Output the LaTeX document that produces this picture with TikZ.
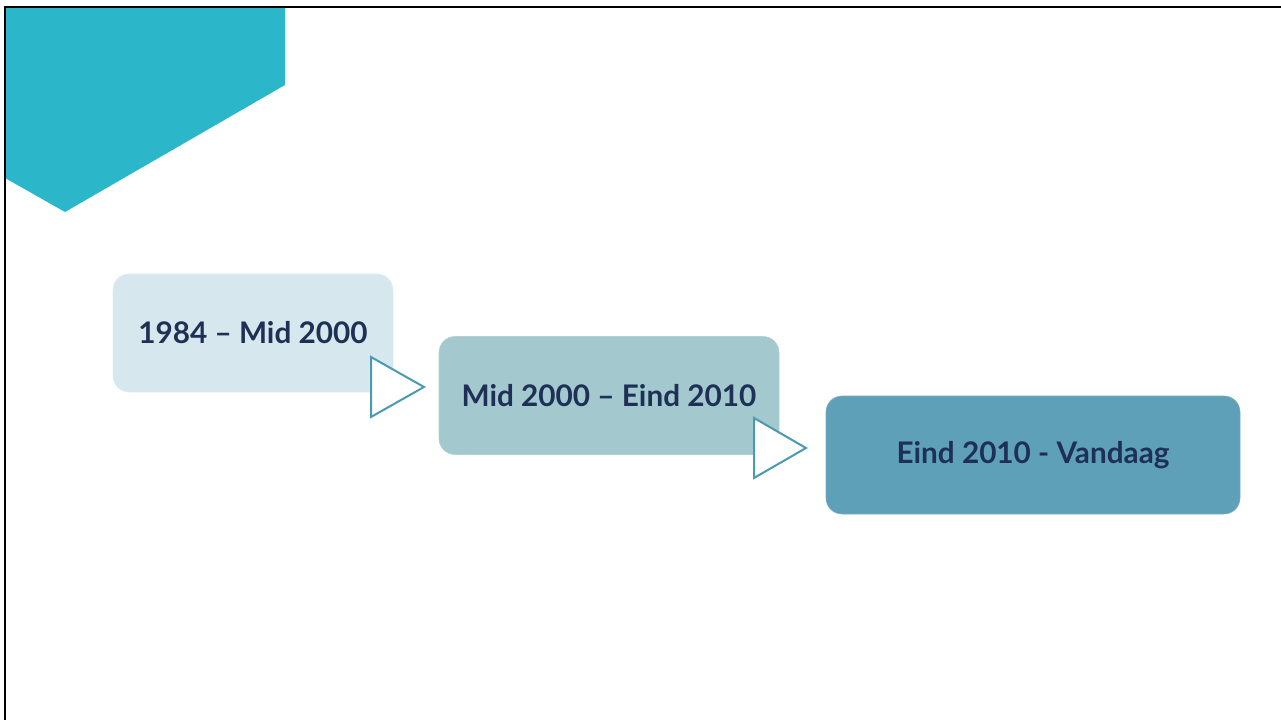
\documentclass[tikz,border=0pt]{standalone}
\usepackage{fontspec}
\setmainfont{Lato}
\usepackage{tikz}

\definecolor{tealbar}{RGB}{43,183,201}
\definecolor{stepone}{RGB}{214,232,237}
\definecolor{steptwo}{RGB}{163,200,205}
\definecolor{stepthree}{RGB}{95,160,185}
\definecolor{navytext}{RGB}{31,48,87}
\definecolor{tribord}{RGB}{74,154,178}

\tikzset{
  periodbox/.style={rounded corners=12pt, minimum height=88.5pt, inner sep=0pt,
    font=\bfseries\fontsize{22.3}{26}\selectfont, text=navytext},
  arrowtri/.style={draw=tribord, fill=white, line width=1.5pt, line join=miter}
}

\begin{document}
\begin{tikzpicture}[x=0.75pt,y=0.75pt,yscale=-1,xscale=1]
\useasboundingbox (0,0) rectangle (1281,720);

%Shape: Polygon [teal corner]
\fill [tealbar] (5,7) -- (285,7) -- (285,85) -- (65,212) -- (5,178) -- cycle ;
%Shape: Frame lines
\draw [line width=2.2pt] (5,720) -- (5,7) -- (1281,7) ;

% Period boxes
\node (early) [periodbox, fill=stepone, draw=stepone!80!white, minimum width=210pt]
  at (253,333) {1984 -- Mid 2000};
\node (middle) [periodbox, fill=steptwo, draw=steptwo!85!white, minimum width=255pt]
  at (609,395.5) {Mid 2000 -- Eind 2010};
\node (today) [periodbox, fill=stepthree, draw=stepthree!85!white, minimum width=310.5pt]
  at (1033,455) {Eind 2010 - Vandaag};

%Shape: Triangle [between early and middle]
\draw [arrowtri] (371,357) -- (424,387) -- (371,417) -- cycle ;
%Shape: Triangle [between middle and today]
\draw [arrowtri] (754,418) -- (806,448) -- (754,478) -- cycle ;

\end{tikzpicture}
\end{document}
